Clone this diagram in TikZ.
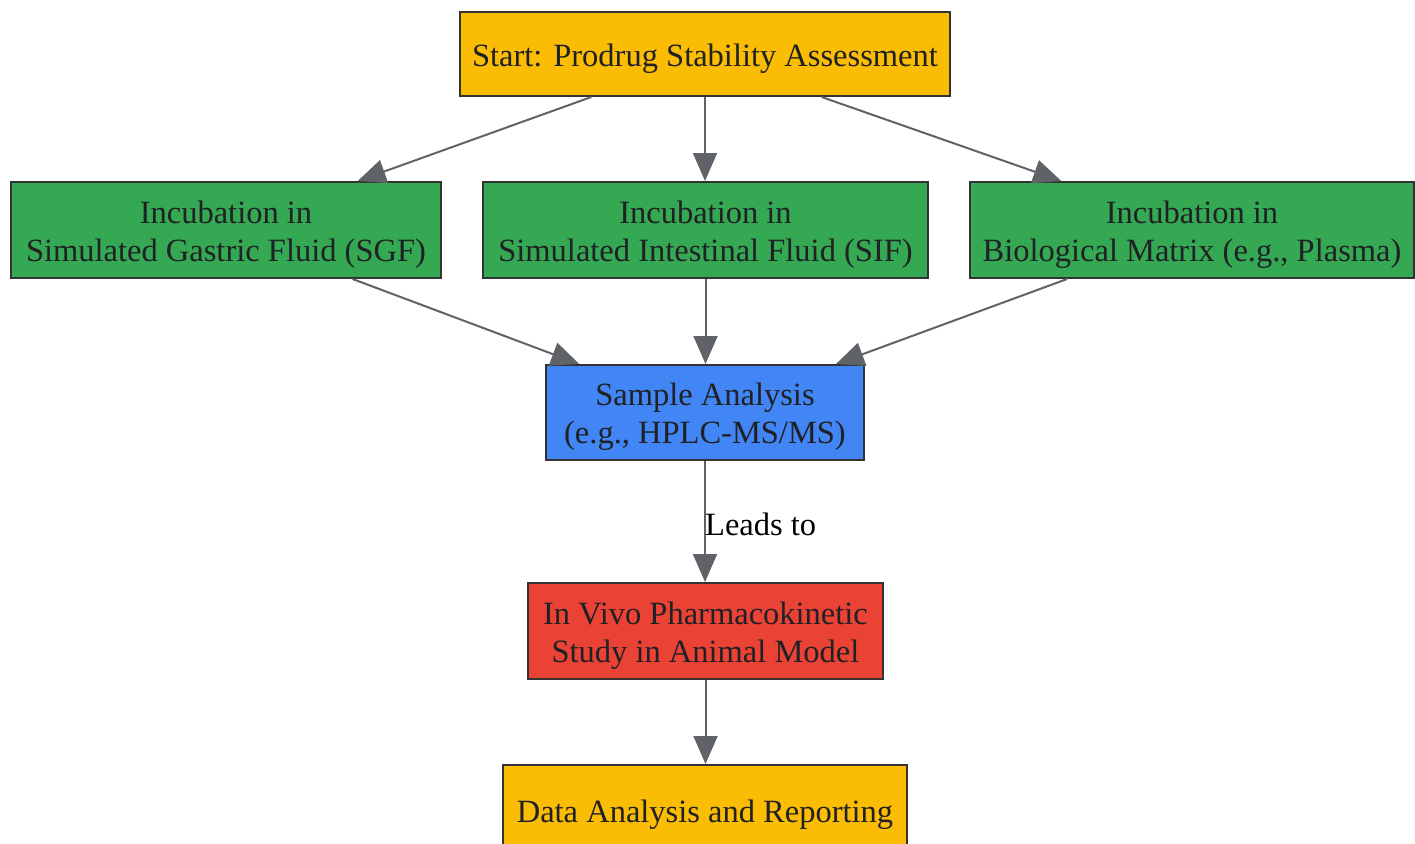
\documentclass[tikz,border=0pt]{standalone}
\usepackage{fontspec}
\setmainfont{Liberation Serif}
\usetikzlibrary{arrows.meta,calc}
\definecolor{cyellow}{HTML}{FBBC04}
\definecolor{cgreen}{HTML}{34A853}
\definecolor{cblue}{HTML}{4285F4}
\definecolor{cred}{HTML}{EA4335}
\definecolor{cedge}{HTML}{5F6368}
\definecolor{ctext}{HTML}{202124}
\definecolor{cborder}{HTML}{333333}
\newcommand{\lowerln}[1]{\raisebox{-4.5pt}[\height][\depth]{#1}}
\tikzset{
  box/.style={draw=cborder, line width=2pt, text=ctext, align=center, inner sep=0pt,
    font=\fontsize{32.5}{38}\selectfont},
  conn/.style={draw=cedge, line width=2pt, -{Triangle[length=28pt,width=24pt]}},
  lbl/.style={text=black, font=\fontsize{32.5}{38}\selectfont, inner sep=0pt}
}
\begin{document}
\begin{tikzpicture}[x=1pt,y=-1pt]
\useasboundingbox (0,0) rectangle (1415,843);
\clip (0,0) rectangle (1415,843);
\node[box, fill=cyellow, minimum width=490pt, minimum height=84pt] (start) at (705,54) {\lowerln{Start: Prodrug Stability Assessment}};
\node[box, fill=cgreen, minimum width=430pt, minimum height=96pt] (sgf) at (226,230) {\lowerln{Incubation in}\\\lowerln{Simulated Gastric Fluid (SGF)}};
\node[box, fill=cgreen, minimum width=445pt, minimum height=96pt] (sif) at (705.5,230) {\lowerln{Incubation in}\\\lowerln{Simulated Intestinal Fluid (SIF)}};
\node[box, fill=cgreen, minimum width=444pt, minimum height=96pt] (bio) at (1192,230) {\lowerln{Incubation in}\\\lowerln{Biological Matrix (e.g., Plasma)}};
\node[box, fill=cblue, minimum width=318pt, minimum height=95pt] (sample) at (705,412.5) {\lowerln{Sample Analysis}\\\lowerln{(e.g., HPLC-MS/MS)}};
\node[box, fill=cred, minimum width=355pt, minimum height=96pt] (invivo) at (705.5,631) {\lowerln{In Vivo Pharmacokinetic}\\\lowerln{Study in Animal Model}};
\node[box, fill=cyellow, minimum width=404pt, minimum height=90pt] (data) at (705,810) {\lowerln{Data Analysis and Reporting}};

\draw[conn] ($(start.south west)!0.269!(start.south east)$) -- ($(sgf.north west)!0.805!(sgf.north east)$);
\draw[conn] (start.south) -- (start.south |- sif.north);
\draw[conn] ($(start.south west)!0.737!(start.south east)$) -- ($(bio.north west)!0.207!(bio.north east)$);
\draw[conn] ($(sgf.south west)!0.793!(sgf.south east)$) -- ($(sample.north west)!0.107!(sample.north east)$);
\draw[conn] (sif.south) -- (sif.south |- sample.north);
\draw[conn] ($(bio.south west)!0.22!(bio.south east)$) -- ($(sample.north west)!0.909!(sample.north east)$);
\draw[conn] (sample.south) -- (sample.south |- invivo.north) coordinate[pos=0.52] (mid);
\node[lbl, anchor=west] (leads) at (mid) {Leads to};
\draw[conn] (invivo.south) -- (invivo.south |- data.north);
\end{tikzpicture}
\end{document}
